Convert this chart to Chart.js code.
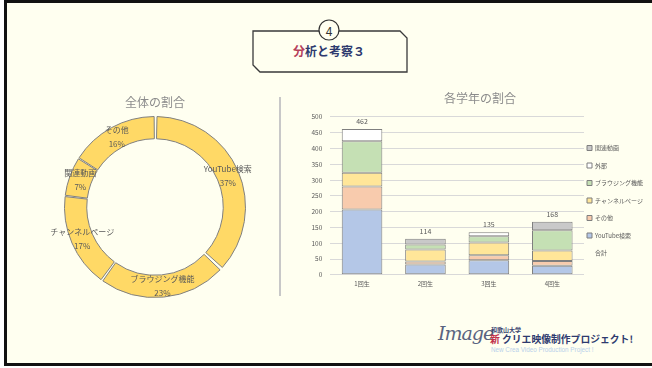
<!DOCTYPE html>
<html><head><meta charset="utf-8">
<script src="https://cdn.jsdelivr.net/npm/chart.js@4.4.0/dist/chart.umd.min.js"></script>
<style>
html,body{margin:0;padding:0;width:652px;height:368px;overflow:hidden;background:#fff;font-family:"Noto Sans CJK JP",sans-serif;}
#frame{position:absolute;left:4px;top:0;width:670px;height:366px;box-sizing:border-box;border:3px solid #111;background:#FFFFF0;}
.abs{position:absolute;}
#divider{left:279px;top:97px;width:2px;height:199px;background:#c8c8c8;}
#pieWrap{left:40px;top:90px;width:230px;height:208px;}
#barWrap{left:290px;top:88px;width:372px;height:204px;}
#logoScript{left:438px;top:322px;font-family:"DejaVu Serif",serif;font-style:italic;font-size:19px;color:#5a6480;letter-spacing:-1px;}
#logoUni{left:491px;top:326px;font-size:6px;font-weight:bold;color:#3a4470;line-height:7px;}
#logoMain{left:490px;top:333px;font-size:9.8px;font-weight:bold;color:#2E3A6E;line-height:13px;white-space:nowrap;}
#logoMain span{color:#C0304A;}
#logoSub{left:491px;top:346px;font-family:"Liberation Sans",sans-serif;font-size:6.3px;color:#b8d0ea;white-space:nowrap;line-height:7px;}
</style>
</head><body>
<div id="frame"></div>
<svg class="abs" style="left:0;top:0" width="652" height="80">
  <polygon points="253,31 400,31 407,38 407,72 260,72 253,65" fill="#FFFFF0" stroke="#3a3a3a" stroke-width="1.3"/>
  <circle cx="329" cy="30" r="10" fill="#FFFFF0" stroke="#333" stroke-width="1.2"/>
  <text x="329" y="30.5" text-anchor="middle" dominant-baseline="central" font-family="Noto Sans CJK JP" font-size="12" fill="#333">4</text>
  <text x="329" y="50" text-anchor="middle" dominant-baseline="central" font-family="Noto Sans CJK JP" font-size="12" font-weight="bold"><tspan fill="#B5405A">分</tspan><tspan fill="#2E3A6E">析と考察３</tspan></text>
</svg>
<div id="divider" class="abs"></div>
<div id="pieWrap" class="abs"><canvas id="pie" width="230" height="208"></canvas></div>
<div id="barWrap" class="abs"><canvas id="bar" width="372" height="204"></canvas></div>
<div id="logoScript" class="abs">Image</div>
<div id="logoUni" class="abs">和歌山大学</div>
<div id="logoMain" class="abs"><span>新</span> クリエ映像制作プロジェクト!</div>
<div id="logoSub" class="abs">New Crea Video Production Project !</div>
<script>
const FONT = '"Noto Sans CJK JP", sans-serif';

// Doughnut data
const pieTitle = '全体の割合';
const pieLabels = ['YouTube検索','ブラウジング機能','チャンネルページ','関連動画','その他'];
const pieValues = [37, 23, 17, 7, 16];

// Stacked bar data
const barTitle = '各学年の割合';
const grades = ['1回生','2回生','3回生','4回生'];
const youtubeSearch = [207, 33, 46, 29];
const otherSrc = [73, 9, 16, 15];
const channelPage = [43, 38, 40, 33];
const browsing = [100, 16, 20, 64];
const external = [39, 0, 13, 0];
const related = [0, 18, 0, 27];
const totals = [462, 114, 135, 168];
const yMin = 0, yMax = 500, yStep = 50;

const pieLabelPlugin = {
  id: 'pieLabelPlugin',
  afterDatasetsDraw(chart) {
    const ctx = chart.ctx;
    const meta = chart.getDatasetMeta(0);
    ctx.save();
    ctx.font = '8px ' + FONT;
    ctx.fillStyle = '#595959';
    ctx.textAlign = 'center';
    ctx.textBaseline = 'middle';
    meta.data.forEach((arc, i) => {
      const p = arc.tooltipPosition();
      ctx.fillText(chart.data.labels[i], p.x, p.y - 7);
      ctx.fillText(pieValues[i] + '%', p.x, p.y + 7);
    });
    ctx.restore();
  }
};

new Chart(document.getElementById('pie'), {
  type: 'doughnut',
  data: {
    labels: pieLabels,
    datasets: [{
      data: pieValues,
      backgroundColor: '#FFD966',
      borderColor: '#808080',
      borderWidth: 1,
      spacing: 3
    }]
  },
  options: {
    responsive: false,
    animation: false,
    cutout: '75%',
    layout: { padding: { left: 15, right: 15 } },
    plugins: {
      legend: { display: false },
      tooltip: { enabled: false },
      title: { display: true, text: pieTitle, color: '#8c8c8c', font: { size: 12, family: FONT, weight: 'normal' }, padding: { top: 4.8, bottom: 6.8 } }
    }
  },
  plugins: [pieLabelPlugin]
});

const totalLabelPlugin = {
  id: 'totalLabelPlugin',
  afterDatasetsDraw(chart) {
    const ctx = chart.ctx;
    const idx = chart.data.datasets.findIndex(d => d.label === '合計');
    const meta = chart.getDatasetMeta(idx);
    ctx.save();
    ctx.font = '7px ' + FONT;
    ctx.fillStyle = '#595959';
    ctx.textAlign = 'center';
    ctx.textBaseline = 'bottom';
    meta.data.forEach((pt, i) => {
      ctx.fillText(String(totals[i]), pt.x, pt.y - 4);
    });
    ctx.restore();
  }
};

const legendShift = {
  id: 'legendShift',
  afterLayout(chart) {
    const l = chart.legend;
    if (!l) return;
    l.left -= 8.5; l.right -= 8.5;
    l.top += 10.5; l.bottom += 10.5;
  }
};

const barStyle = { borderColor: '#7f7f7f', borderWidth: 1, borderSkipped: false, barPercentage: 0.64, categoryPercentage: 1 };
const seriesOrder = ['YouTube検索','その他','チャンネルページ','ブラウジング機能','外部','関連動画','合計'];

new Chart(document.getElementById('bar'), {
  type: 'bar',
  data: {
    labels: grades,
    datasets: [
      Object.assign({ label: 'YouTube検索', data: youtubeSearch, backgroundColor: '#B4C7E7' }, barStyle),
      Object.assign({ label: 'その他', data: otherSrc, backgroundColor: '#F8CBAD' }, barStyle),
      Object.assign({ label: 'チャンネルページ', data: channelPage, backgroundColor: '#FFE699' }, barStyle),
      Object.assign({ label: 'ブラウジング機能', data: browsing, backgroundColor: '#C5E0B4' }, barStyle),
      Object.assign({ label: '外部', data: external, backgroundColor: '#FFFFFF' }, barStyle),
      Object.assign({ label: '関連動画', data: related, backgroundColor: '#C9C9C9' }, barStyle),
      { type: 'line', label: '合計', data: totals, showLine: false, pointRadius: 0, borderColor: 'rgba(0,0,0,0)', backgroundColor: 'rgba(0,0,0,0)' }
    ]
  },
  options: {
    responsive: false,
    animation: false,
    layout: { padding: { left: 13.5, right: 5.5, top: 0, bottom: 0 } },
    plugins: {
      tooltip: { enabled: false },
      title: { display: true, text: barTitle, color: '#8c8c8c', font: { size: 12, family: FONT, weight: 'normal' }, padding: { top: 3, bottom: 11.5 } },
      legend: {
        position: 'right',
        maxWidth: 72.5,
        labels: {
          boxWidth: 5, boxHeight: 5, padding: 11.5,
          color: '#595959',
          font: { size: 6, family: FONT },
          sort: (a, b) => {
            const k = it => it.text === '合計' ? 100 : -seriesOrder.indexOf(it.text);
            return k(a) - k(b);
          }
        }
      }
    },
    scales: {
      x: {
        stacked: true,
        grid: { display: false, drawTicks: false },
        border: { display: false },
        ticks: { color: '#595959', font: { size: 6, family: FONT }, padding: 5 }
      },
      y: {
        stacked: true,
        min: yMin, max: yMax,
        grid: { color: '#d9d9d9', drawTicks: false },
        border: { display: false },
        ticks: { stepSize: yStep, color: '#595959', font: { size: 6.5, family: FONT }, padding: 8 }
      }
    }
  },
  plugins: [totalLabelPlugin, legendShift]
});
</script>
</body></html>
